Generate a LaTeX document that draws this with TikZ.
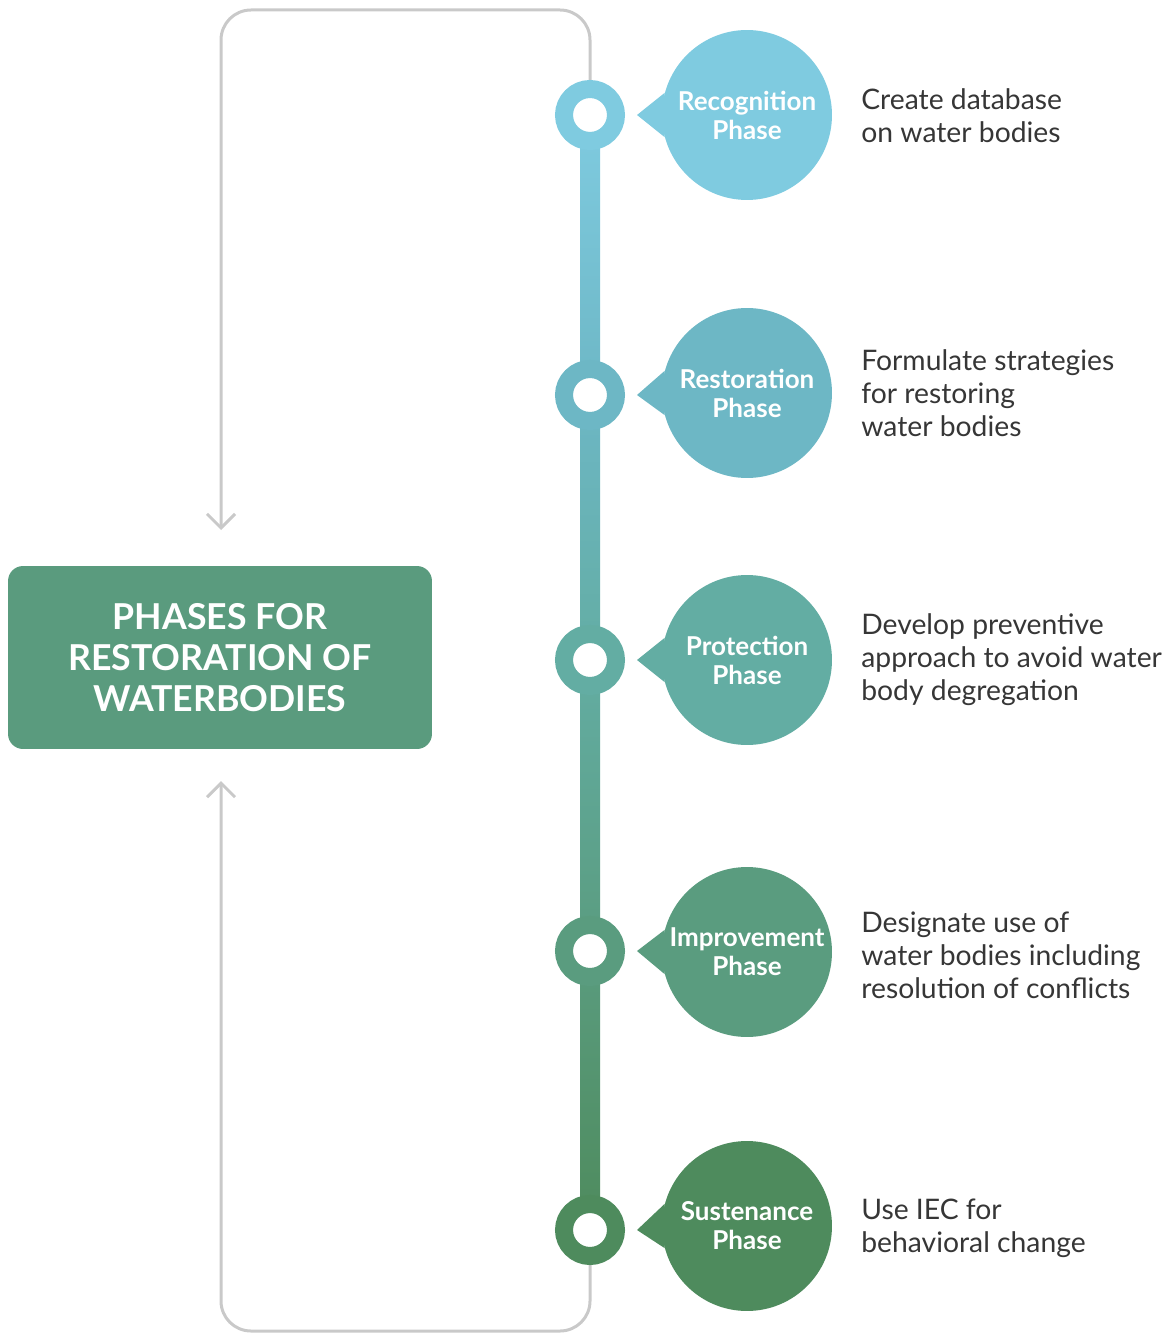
\documentclass[tikz,border=0pt]{standalone}
\usepackage{fontspec}
\setmainfont{Lato}
\usetikzlibrary{arrows.meta}

\definecolor{recC}{HTML}{7FCBE0}
\definecolor{resC}{HTML}{6DB7C5}
\definecolor{proC}{HTML}{63ADA3}
\definecolor{impC}{HTML}{5A9C7F}
\definecolor{susC}{HTML}{4E8B5D}
\definecolor{boxC}{HTML}{5A9B7E}
\definecolor{lineC}{HTML}{C9C9C9}
\definecolor{descC}{HTML}{363636}

\begin{document}
\begin{tikzpicture}[x=0.02cm, y=-0.02cm,
    bubble/.style={circle, minimum size=3.4cm, inner sep=0pt, text=white, align=center,
      font=\bfseries\fontsize{14.8}{16.5}\selectfont},
    ring/.style={circle, minimum size=1.04cm, inner sep=0pt, fill=white, line width=0.36cm},
    desc/.style={anchor=west, align=left, inner sep=0pt, text=descC,
      font=\fontsize{16.1}{18.8}\selectfont},
    titlebox/.style={rectangle, rounded corners=0.3cm, fill=boxC, text=white, align=center,
      minimum width=8.48cm, minimum height=3.66cm, font=\bfseries\fontsize{20.3}{23.5}\selectfont},
    loopline/.style={draw=lineC, line width=0.06cm, rounded corners=0.6cm},
    barb/.tip={Straight Barb[length=0.28cm, width=0.56cm]}]
    \useasboundingbox (0,0) rectangle (1169,1334);

    % Caixa do titulo
    \node[titlebox] (title) at (220,657.5) {PHASES FOR\\RESTORATION OF\\WATERBODIES};

    % Centros dos anéis
    \coordinate (c1) at (590,115);
    \coordinate (c2) at (590,395);
    \coordinate (c3) at (590,660);
    \coordinate (c4) at (590,951);
    \coordinate (c5) at (590,1230);

    % Linha cinza de retorno
    \coordinate (up) at (221,530);
    \coordinate (down) at (221,781);
    \draw[loopline, -barb] (c1) -- (590,10) -- (221,10) -- (up);
    \draw[loopline, -barb] (c5) -- (590,1331) -- (221,1331) -- (down);

    % Trechos da linha do tempo com degradê
    \shade[top color=recC, bottom color=resC] ([xshift=-0.2cm]c1) rectangle ([xshift=0.2cm]c2);
    \shade[top color=resC, bottom color=proC] ([xshift=-0.2cm]c2) rectangle ([xshift=0.2cm]c3);
    \shade[top color=proC, bottom color=impC] ([xshift=-0.2cm]c3) rectangle ([xshift=0.2cm]c4);
    \shade[top color=impC, bottom color=susC] ([xshift=-0.2cm]c4) rectangle ([xshift=0.2cm]c5);

    % Anéis
    \node[ring, draw=recC] (r1) at (c1) {};
    \node[ring, draw=resC] (r2) at (c2) {};
    \node[ring, draw=proC] (r3) at (c3) {};
    \node[ring, draw=impC] (r4) at (c4) {};
    \node[ring, draw=susC] (r5) at (c5) {};

    % Bolhas das fases
    \node[bubble, fill=recC] (b1) at (747,115) {Recognition\\Phase};
    \node[bubble, fill=resC] (b2) at (747,393) {Restoration\\Phase};
    \node[bubble, fill=proC] (b3) at (747,660) {Protection\\Phase};
    \node[bubble, fill=impC] (b4) at (747,952) {Improvement\\Phase};
    \node[bubble, fill=susC] (b5) at (747,1226) {Sustenance\\Phase};

    % Pontas das bolhas
    \coordinate (p1) at (637,115);
    \coordinate (p2) at (637,395);
    \coordinate (p3) at (637,660);
    \coordinate (p4) at (637,951);
    \coordinate (p5) at (637,1230);
    \fill[recC] (p1) -- (b1.165) -- (b1.195) -- cycle;
    \fill[resC] (p2) -- (b2.165) -- (b2.195) -- cycle;
    \fill[proC] (p3) -- (b3.165) -- (b3.195) -- cycle;
    \fill[impC] (p4) -- (b4.165) -- (b4.195) -- cycle;
    \fill[susC] (p5) -- (b5.165) -- (b5.195) -- cycle;

    % Descrições
    \node[desc] (d1) at (861,116) {Create database\\on water bodies};
    \node[desc] (d2) at (861,393) {Formulate strategies\\for restoring\\water bodies};
    \node[desc] (d3) at (861,660) {Develop preventive\\approach to avoid water\\body degregation};
    \node[desc] (d4) at (861,955) {Designate use of\\water bodies including\\resolution of conflicts};
    \node[desc] (d5) at (861,1228) {Use IEC for\\behavioral change};
\end{tikzpicture}
\end{document}
